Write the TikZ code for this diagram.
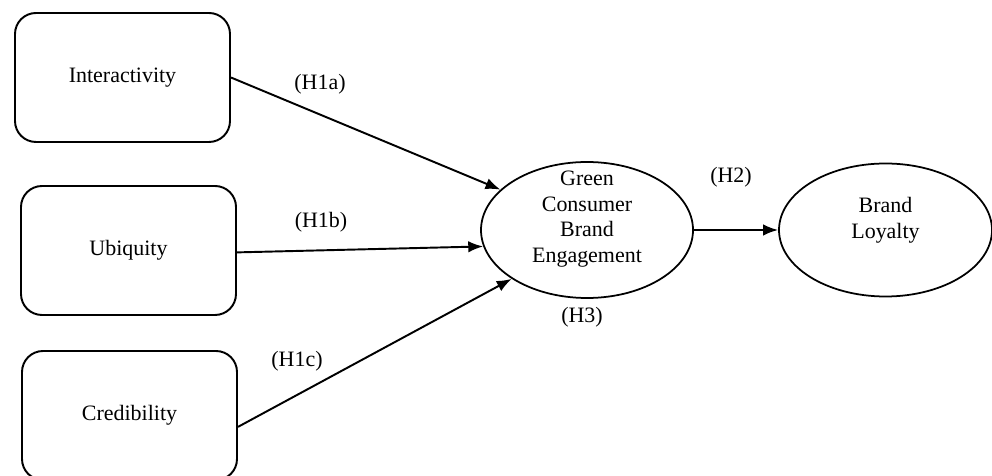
\documentclass[tikz,border=0pt]{standalone}
\usepackage{fontspec}
\setmainfont{Liberation Serif}
\usetikzlibrary{shapes.geometric,arrows.meta}

\tikzset{
    construct/.style={draw, line width=1.1pt, rounded corners=0.42cm, minimum width=4.3cm, minimum height=2.58cm},
    latent/.style={draw, ellipse, line width=1pt, inner sep=0pt},
    path arrow/.style={line width=1.1pt, -{Latex[length=8.5pt,width=6.5pt]}},
}

\begin{document}
\begin{tikzpicture}[font=\fontsize{12.5}{14.6}\selectfont]
        \useasboundingbox (0,0) rectangle (19.84,9.5);
        % independent constructs
        \node[construct] (inter) at (2.45, 7.95) {Interactivity};
        \node[construct] (ubiq) at (2.57, 4.49) {Ubiquity};
        \node[construct] (cred) at (2.59, 1.19) {Credibility};
        % mediator and outcome
        \node[latent, minimum width=4.24cm, minimum height=2.72cm,
              label={[align=center, yshift=0.22cm]center:Green\\Consumer\\Brand\\Engagement}] (gcbe) at (11.74, 4.90) {};
        \node[latent, minimum width=4.26cm, minimum height=2.66cm,
              label={[align=center, yshift=0.19cm]center:Brand\\Loyalty}] (loyal) at (17.71, 4.90) {};
        % hypotheses
        \draw[path arrow] (inter.east) -- (gcbe.155);
        \draw[path arrow] (ubiq.-1.5) -- (gcbe.189);
        \draw[path arrow] (cred.-6) -- (gcbe.213);
        \draw[path arrow] (gcbe.east) -- (loyal.west);
        \node (h1a) at (6.40, 7.82) {(H1a)};
        \node (h1b) at (6.42, 5.06) {(H1b)};
        \node (h1c) at (5.94, 2.28) {(H1c)};
        \node (h2) at (14.62, 5.96) {(H2)};
        \node (h3) at (11.64, 3.16) {(H3)};
    \end{tikzpicture}
\end{document}
